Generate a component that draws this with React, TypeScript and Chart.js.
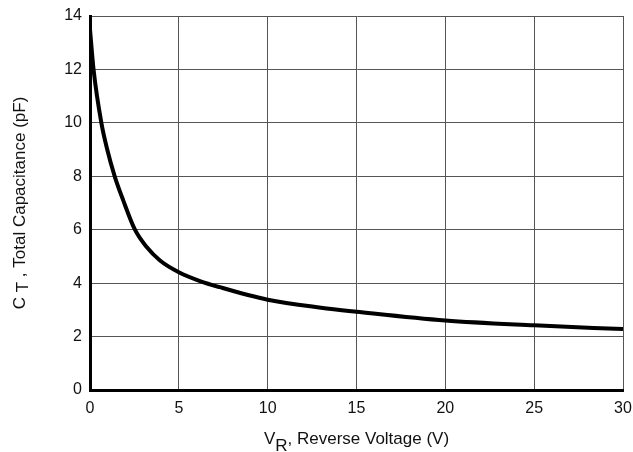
import React, { useEffect, useRef } from "react";
import { Chart, registerables } from "chart.js";

Chart.register(...registerables);

const voltage = [0, 0.2, 0.64, 0.97, 1.39, 1.87, 2.53, 3.19, 3.94, 5, 6.19, 7.3, 10, 13, 15, 20, 25, 30];
const capacitance = [13.5, 12, 10, 9.0, 8, 7.1, 6.0, 5.35, 4.85, 4.41, 4.08, 3.85, 3.38, 3.08, 2.93, 2.6, 2.42, 2.28];

const FONT = "'Liberation Sans', Arial, sans-serif";

const titlePlugin = {
  id: "titles",
  afterDraw(chart: any) {
    const ctx = chart.ctx as CanvasRenderingContext2D;
    const area = chart.chartArea;
    ctx.save();
    ctx.fillStyle = "#111";
    ctx.font = `17px ${FONT}`;
    ctx.textBaseline = "alphabetic";
    // X title: V_R, Reverse Voltage (V)
    const parts: [string, number][] = [["V", 0], ["R", 7], [", Reverse Voltage (V)", 0]];
    let total = 0;
    for (const [t] of parts) total += ctx.measureText(t).width;
    let x = (area.left + area.right) / 2 - total / 2;
    const baseY = 444;
    for (const [t, dy] of parts) {
      ctx.fillText(t, x, baseY + dy);
      x += ctx.measureText(t).width;
    }
    // Y title: C_T, Total Capacitance (pF)
    ctx.translate(25, (area.top + area.bottom) / 2);
    ctx.rotate(-Math.PI / 2);
    const yparts: [string, number][] = [["C ", 0], ["T", 3], [" , Total Capacitance (pF)", 0]];
    let ytot = 0;
    for (const [t] of yparts) ytot += ctx.measureText(t).width;
    let yx = -ytot / 2;
    for (const [t, dy] of yparts) {
      ctx.fillText(t, yx, dy);
      yx += ctx.measureText(t).width;
    }
    ctx.restore();
  },
};

export default function App() {
  const ref = useRef<HTMLCanvasElement>(null);
  useEffect(() => {
    if (!ref.current) return;
    const points = voltage.map((v, i) => ({ x: v, y: capacitance[i] }));
    const chart = new Chart(ref.current, {
      type: "line",
      data: {
        datasets: [
          {
            data: points,
            borderColor: "#000",
            borderWidth: 4,
            pointRadius: 0,
            cubicInterpolationMode: "monotone",
            fill: false,
          },
        ],
      },
      options: {
        animation: false,
        responsive: false,
        layout: { padding: { left: 0, right: 10, top: 16, bottom: 0 } },
        plugins: { legend: { display: false }, tooltip: { enabled: false } },
        scales: {
          x: {
            type: "linear",
            min: 0,
            max: 30,
            ticks: { stepSize: 5, color: "#111", font: { family: FONT, size: 16 }, padding: 9, maxRotation: 0 },
            grid: { color: "#555", lineWidth: 1, drawTicks: false },
            border: { color: "#000", width: 3 },
            afterFit(scale: any) {
              scale.height = 62;
              scale.paddingRight = 0;
              scale.paddingLeft = 0;
            },
          },
          y: {
            min: 0,
            max: 14,
            ticks: { stepSize: 2, color: "#111", font: { family: FONT, size: 16 }, padding: 8 },
            grid: { color: "#555", lineWidth: 1, drawTicks: false },
            border: { color: "#000", width: 3 },
            afterFit(scale: any) {
              scale.width = 90;
              scale.paddingTop = 0;
              scale.paddingBottom = 0;
            },
          },
        },
      },
      plugins: [titlePlugin],
    } as any);
    return () => chart.destroy();
  }, []);
  return (
    <div style={{ position: "fixed", left: 0, top: 0, width: 633, height: 452, background: "#fff" }}>
      <canvas ref={ref} width={633} height={452} />
    </div>
  );
}
